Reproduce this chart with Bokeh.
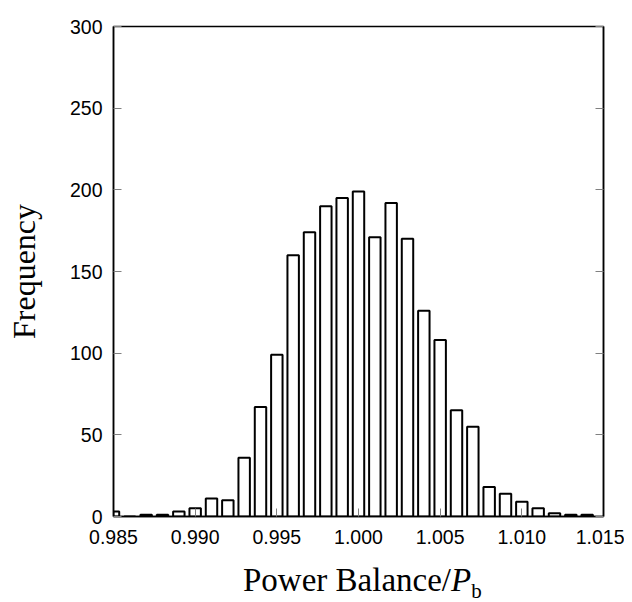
from bokeh.plotting import figure
from bokeh.models import Range1d, LinearAxis, FixedTicker, CustomJSTickFormatter, Div
from bokeh.layouts import column
from bokeh.embed import file_html
from bokeh.resources import INLINE

# Histogram bins (centres) and frequencies
bin_centers = [0.985, 0.986, 0.987, 0.988, 0.989, 0.990, 0.991, 0.992, 0.993, 0.994,
               0.995, 0.996, 0.997, 0.998, 0.999, 1.000, 1.001, 1.002, 1.003, 1.004,
               1.005, 1.006, 1.007, 1.008, 1.009, 1.010, 1.011, 1.012, 1.013, 1.014]
frequency = [3, 0, 1, 1, 3, 5, 11, 10, 36, 67,
             99, 160, 174, 190, 195, 199, 171, 192, 170, 126,
             108, 65, 55, 18, 14, 9, 5, 2, 1, 1]
x_ticks = [0.985, 0.990, 0.995, 1.000, 1.005, 1.010, 1.015]
y_ticks = [0, 50, 100, 150, 200, 250, 300]

TICK_FONT = "Liberation Sans"
LABEL_FONT = "Liberation Serif"

p = figure(width=624, height=556, output_backend="svg", toolbar_location=None,
           x_range=Range1d(0.985, 1.015), y_range=Range1d(0, 300),
           min_border_left=113, min_border_right=21, min_border_top=26, min_border_bottom=40)
p.grid.visible = False
p.background_fill_color = "white"
p.border_fill_color = "white"
p.outline_line_color = "black"
p.outline_line_width = 1.5

p.vbar(x=bin_centers, top=frequency, width=0.0007, bottom=0,
       fill_color="white", line_color="black", line_width=2)

xa = p.xaxis[0]
xa.ticker = FixedTicker(ticks=x_ticks)
xa.formatter = CustomJSTickFormatter(code="return tick.toFixed(3);")
xa.major_label_text_font = TICK_FONT
xa.major_label_text_font_size = "19.5px"
xa.major_label_text_color = "black"
xa.major_label_standoff = 13
xa.major_tick_in = 8
xa.major_tick_out = 0
xa.major_tick_line_color = "gray"
xa.minor_tick_line_color = None
xa.axis_line_color = "black"
xa.axis_line_width = 1.5

ya = p.yaxis[0]
ya.ticker = FixedTicker(ticks=y_ticks)
ya.major_label_text_font = TICK_FONT
ya.major_label_text_font_size = "19.5px"
ya.major_label_text_color = "black"
ya.major_label_standoff = 11
ya.major_tick_in = 8
ya.major_tick_out = 0
ya.major_tick_line_color = "gray"
ya.minor_tick_line_color = None
ya.axis_line_color = "black"
ya.axis_line_width = 1.5
ya.axis_label = "Frequency"
ya.axis_label_text_font = LABEL_FONT
ya.axis_label_text_font_style = "normal"
ya.axis_label_text_font_size = "32px"
ya.axis_label_text_color = "black"
ya.axis_label_standoff = 25

ra = LinearAxis(ticker=FixedTicker(ticks=y_ticks),
                formatter=CustomJSTickFormatter(code="return '';"),
                major_tick_in=8, major_tick_out=0, major_tick_line_color="gray",
                minor_tick_line_color=None, axis_line_color="black", axis_line_width=1.5,
                major_label_standoff=0)
p.add_layout(ra, "right")

# x-axis title: regular text, italic P, subscript b
xlabel = Div(
    text=('<div style="font-family:\'Liberation Serif\'; font-size:33px; line-height:38px; '
          'padding-left:243px; padding-top:5px; white-space:nowrap; color:black;">'
          'Power Balance/<i>P</i><span style="font-size:21px; vertical-align:-7px;">b</span></div>'),
    width=624, height=46, margin=0)

layout = column(p, xlabel, spacing=0)
open("out.html", "w").write(file_html(layout, INLINE))
